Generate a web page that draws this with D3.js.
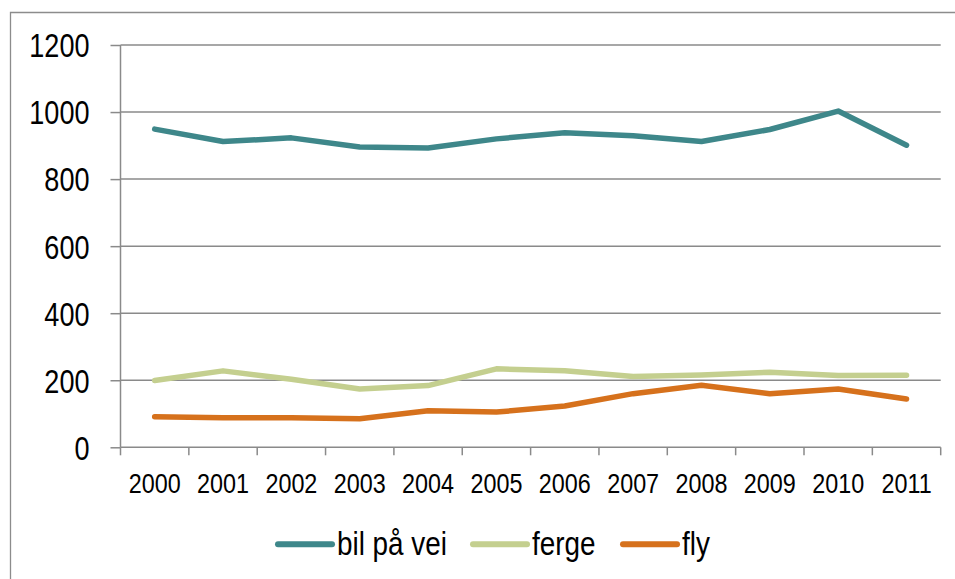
<!DOCTYPE html>
<html><head><meta charset="utf-8">
<script src="https://cdn.jsdelivr.net/npm/d3@7"></script>
<style>
html,body{margin:0;padding:0;background:#fff;}
svg{display:block;}
text{font-family:"Liberation Sans",Arial,sans-serif;fill:#000;}
</style></head>
<body>
<svg id="chart" width="955" height="579"></svg>
<script>
const years = ["2000","2001","2002","2003","2004","2005","2006","2007","2008","2009","2010","2011"];
const bilPaVei = [949, 912, 923, 896, 893, 920, 938, 929, 912, 948, 1003, 901];
const ferge    = [199, 228, 203, 174, 184, 234, 228, 211, 216, 224, 214, 215];
const fly      = [91, 88, 88, 85, 109, 105, 123, 160, 185, 160, 174, 144];
const seriesNames = ["bil på vei", "ferge", "fly"];
const yTicks = [0, 200, 400, 600, 800, 1000, 1200];

const colors = ["#3E878A", "#C4CF8F", "#D6711C"];
const seriesData = [bilPaVei, ferge, fly];
const SX = 0.82; // horizontal condensing to mimic a narrow font

const svg = d3.select("#chart");
const pLeft = 120.5, pRight = 940.7, pTop = 45, pBottom = 447.3;

function condense(sel){
  sel.each(function(){
    const t = d3.select(this);
    const xx = +t.attr("x") || 0, yy = +t.attr("y") || 0;
    t.attr("x",0).attr("y",0).attr("transform",`translate(${xx},${yy}) scale(${SX},1)`);
  });
}

// outer frame
svg.append("path").attr("d", "M10.5,579 V12.5 H955")
  .attr("fill","none").attr("stroke","#8c8c8c").attr("stroke-width",1.3);

const x = d3.scaleBand().domain(years).range([pLeft, pRight]);
const y = d3.scaleLinear().domain([0, 1200]).range([pBottom, pTop]);

// gridlines
svg.append("g").selectAll("line").data(yTicks.filter(d=>d>0)).join("line")
  .attr("x1", pLeft).attr("x2", pRight)
  .attr("y1", d=>y(d)).attr("y2", d=>y(d))
  .attr("stroke","#8a8a8a").attr("stroke-width",1.5);

// y axis
const yAxis = svg.append("g").attr("transform",`translate(${pLeft},0)`)
  .call(d3.axisLeft(y).tickValues(yTicks).tickSize(10).tickPadding(21).tickFormat(d3.format("d")));
yAxis.attr("font-family",null).attr("font-size",null);
yAxis.select(".domain").attr("stroke","#8a8a8a").attr("stroke-width",1.5).attr("d",`M0,${pBottom}V${pTop}`);
yAxis.selectAll(".tick line").attr("stroke","#8a8a8a").attr("stroke-width",1.5);
yAxis.selectAll(".tick text").attr("font-size",33).attr("dy","0.36em").style("fill","#000").call(condense);

// x axis
const xAxis = svg.append("g").attr("transform",`translate(0,${pBottom})`)
  .call(d3.axisBottom(x).tickSize(0).tickPadding(0));
xAxis.attr("font-family",null).attr("font-size",null);
xAxis.select(".domain").attr("stroke","#8a8a8a").attr("stroke-width",1.5).attr("d",`M${pLeft},0H${pRight}`);
xAxis.selectAll(".tick text").attr("font-size",28.5).attr("y",46).attr("dy",0).style("fill","#000").call(condense);
// boundary ticks
const bounds = years.map(d=>x(d)).concat([pRight]);
svg.append("g").selectAll("line").data(bounds).join("line")
  .attr("x1",d=>d).attr("x2",d=>d).attr("y1",pBottom).attr("y2",pBottom+8)
  .attr("stroke","#8a8a8a").attr("stroke-width",1.5);

// lines
const line = d3.line().x((d,i)=>x(years[i])+x.bandwidth()/2).y(d=>y(d));
svg.append("g").selectAll("path").data(seriesData).join("path")
  .attr("d", d=>line(d)).attr("fill","none")
  .attr("stroke",(d,i)=>colors[i]).attr("stroke-width",5.5)
  .attr("stroke-linecap","round").attr("stroke-linejoin","round");

// legend
const legendX = [278, 473, 623];
const lg = svg.append("g");
seriesNames.forEach((name,i)=>{
  lg.append("line").attr("x1",legendX[i]).attr("x2",legendX[i]+54)
    .attr("y1",544.3).attr("y2",544.3).attr("stroke",colors[i]).attr("stroke-width",6)
    .attr("stroke-linecap","round");
  lg.append("text").attr("x",legendX[i]+59).attr("y",555).attr("font-size",34).text(name).call(condense);
});
</script>
</body></html>
